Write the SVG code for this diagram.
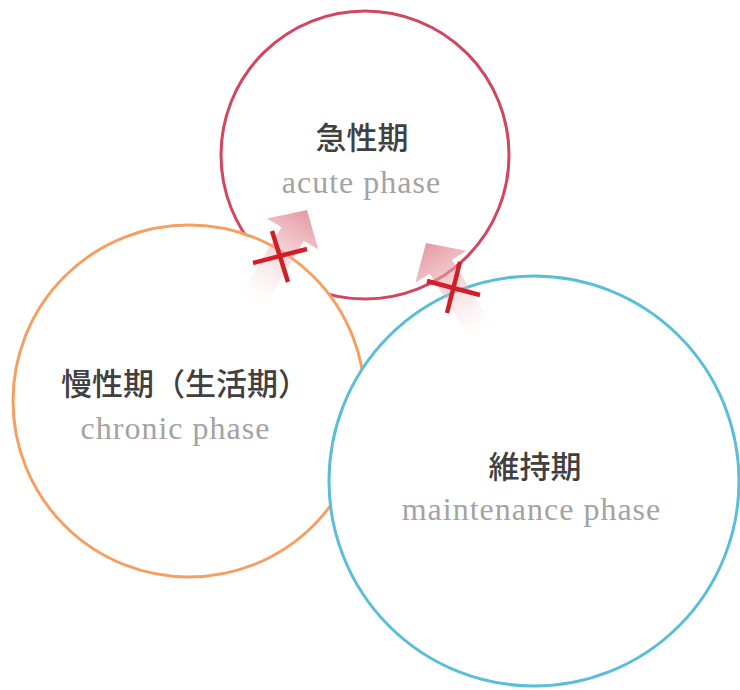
<svg xmlns="http://www.w3.org/2000/svg" width="740" height="690" viewBox="0 0 740 690">
  <defs>
    <linearGradient id="arrowGrad" x1="0" y1="0" x2="0" y2="1">
      <stop offset="0" stop-color="#df7f8b" stop-opacity="0.8"/>
      <stop offset="0.3" stop-color="#e79ea6" stop-opacity="0.65"/>
      <stop offset="1" stop-color="#f6d8db" stop-opacity="0"/>
    </linearGradient>
    <path id="arrowShape" d="M0,0 L30,28 L13,28 L13,105 L-13,105 L-13,28 L-30,28 Z"/>
  </defs>
  <style>
    .ring { stroke-width: 3; }
    .title { font-family: "Noto Sans CJK JP", "Noto Sans CJK SC", sans-serif; font-size: 31px; font-weight: 500; fill: #404040; text-anchor: middle; }
    .sub { font-family: "Liberation Serif", serif; font-size: 32px; fill: #a3a3a3; text-anchor: middle; letter-spacing: 1px; }
    .arrow { fill: url(#arrowGrad); }
    .cross { stroke: #d11f28; stroke-width: 4.5; stroke-linecap: butt; }
  </style>
  <rect width="740" height="690" fill="#ffffff"/>

  <g id="node-acute">
    <circle class="ring" cx="365" cy="155" r="144" fill="none" stroke="#d2465f"/>
  </g>
  <g id="node-chronic">
    <circle class="ring" cx="189" cy="401" r="176" fill="#ffffff" stroke="#f5a063"/>
  </g>
  <g id="node-maintenance">
    <circle class="ring" cx="534" cy="481" r="205" fill="#ffffff" stroke="#5bbed7"/>
  </g>

  <g id="connectors">
    <use href="#arrowShape" class="arrow" transform="translate(307,210) rotate(31)"/>
    <use href="#arrowShape" class="arrow" transform="translate(426,243) rotate(-32)"/>
    <line class="cross" x1="253" y1="263" x2="307" y2="249"/>
    <line class="cross" x1="272" y1="231" x2="288" y2="282"/>
    <line class="cross" x1="427" y1="281" x2="480" y2="295"/>
    <line class="cross" x1="460" y1="262" x2="447" y2="313"/>
  </g>

  <g id="labels">
    <text class="title" x="362" y="149">急性期</text>
    <text class="sub" x="361.5" y="193">acute phase</text>
    <text class="title" x="185" y="395">慢性期（生活期）</text>
    <text class="sub" x="175.5" y="439">chronic phase</text>
    <text class="title" x="535" y="478">維持期</text>
    <text class="sub" x="531.5" y="520">maintenance phase</text>
  </g>
</svg>
